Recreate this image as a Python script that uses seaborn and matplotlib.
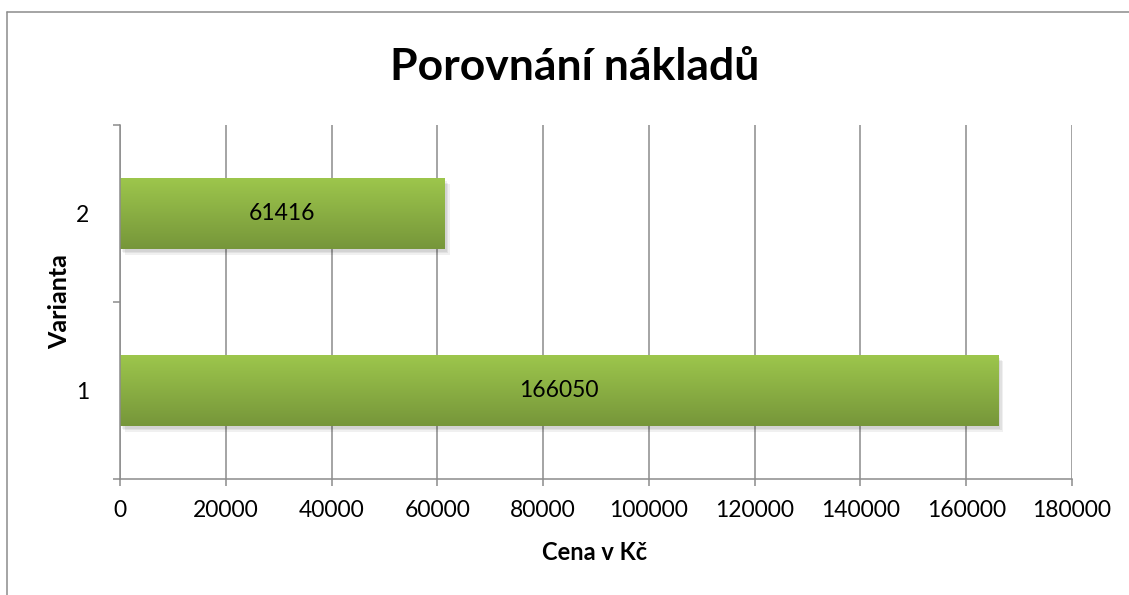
import matplotlib.patheffects as pe
import matplotlib.pyplot as plt
import numpy as np
import pandas as pd
import seaborn as sns
from matplotlib.colors import LinearSegmentedColormap
from matplotlib.lines import Line2D

variants = ["2", "1"]
costs = [61416, 166050]
x_ticks = [0, 20000, 40000, 60000, 80000, 100000, 120000, 140000, 160000, 180000]

TITLE = "Porovnání nákladů"
X_LABEL = "Cena v Kč"
Y_LABEL = "Varianta"

BAR_TOP = "#9DC64C"
BAR_BOTTOM = "#76963A"
GRID = "#8C8C8C"


def main() -> None:
    sns.set_theme(style="white")
    plt.rcParams["font.family"] = ["Lato", "DejaVu Sans"]

    df = pd.DataFrame({"variant": variants, "cost": costs})

    fig = plt.figure(figsize=(11.29, 5.95), dpi=100)
    ax = fig.add_axes([120 / 1129, 1 - 479 / 595, 952 / 1129, 354 / 595])

    sns.barplot(
        data=df,
        x="cost",
        y="variant",
        order=variants,
        orient="h",
        width=0.4,
        color=BAR_BOTTOM,
        saturation=1,
        ax=ax,
    )

    # gradient fill + soft shadow, Excel style
    grad = np.linspace(0, 1, 256).reshape(-1, 1)
    cmap = LinearSegmentedColormap.from_list("bar", [BAR_TOP, BAR_BOTTOM])
    shadow = [
        pe.SimplePatchShadow(offset=(d, -d * 1.3), shadow_rgbFace="black", alpha=0.06)
        for d in (3.5, 2.5, 1.5)
    ]
    for patch in ax.patches:
        x0, y0 = patch.get_x(), patch.get_y()
        w, h = patch.get_width(), patch.get_height()
        patch.set_edgecolor("none")
        patch.set_zorder(2)
        patch.set_path_effects(shadow + [pe.Normal()])
        ax.imshow(
            grad,
            cmap=cmap,
            aspect="auto",
            extent=(x0, x0 + w, y0 + h, y0),
            zorder=2.5,
            clip_path=patch,
            clip_on=True,
        )

    ax.bar_label(
        ax.containers[0],
        labels=[str(c) for c in costs],
        label_type="center",
        fontsize=16.5,
        color="black",
        zorder=4,
    )

    # ---- axis config ----
    ax.set_xlim(0, 180000)
    ax.set_ylim(1.5, -0.5)
    ax.set_xticks(x_ticks)
    ax.set_xticklabels([str(t) for t in x_ticks])
    ax.set_yticks([-0.5, 0.5, 1.5], minor=True)

    ax.grid(axis="x", color=GRID, linewidth=1.1)
    ax.grid(axis="y", visible=False)
    ax.set_axisbelow(True)

    for side in ["top", "right"]:
        ax.spines[side].set_visible(False)
    for side in ["left", "bottom"]:
        ax.spines[side].set_color(GRID)
        ax.spines[side].set_linewidth(1.1)

    ax.tick_params(
        axis="x", bottom=True, length=5, width=1.1, color=GRID,
        direction="out", pad=10, labelsize=16.5, labelcolor="black",
    )
    ax.tick_params(axis="y", which="major", left=True, length=0, pad=22,
                   labelsize=16.5, labelcolor="black")
    ax.tick_params(axis="y", which="minor", left=True, length=5, width=1.1,
                   color=GRID, direction="out")

    ax.set_xlabel(X_LABEL, fontsize=17, fontweight="bold", color="black")
    ax.xaxis.label.set_va("baseline")
    ax.xaxis.set_label_coords(0.499, (479 - 560) / 354)

    ax.set_ylabel(Y_LABEL, fontsize=18, fontweight="bold", color="black")
    ax.yaxis.set_label_coords((71 - 120) / 952, 0.5)

    fig.text(575 / 1129, 1 - 80 / 595, TITLE, ha="center", va="baseline",
             fontsize=32, fontweight="bold", color="black")

    # chart area frame (top and left edge visible)
    fig.add_artist(Line2D([7 / 1129, 1], [1 - 12 / 595] * 2,
                          transform=fig.transFigure, color=GRID, lw=1.1))
    fig.add_artist(Line2D([7 / 1129] * 2, [0, 1 - 12 / 595],
                          transform=fig.transFigure, color=GRID, lw=1.1))

    fig.savefig("out.png", dpi=100)


if __name__ == "__main__":
    main()
